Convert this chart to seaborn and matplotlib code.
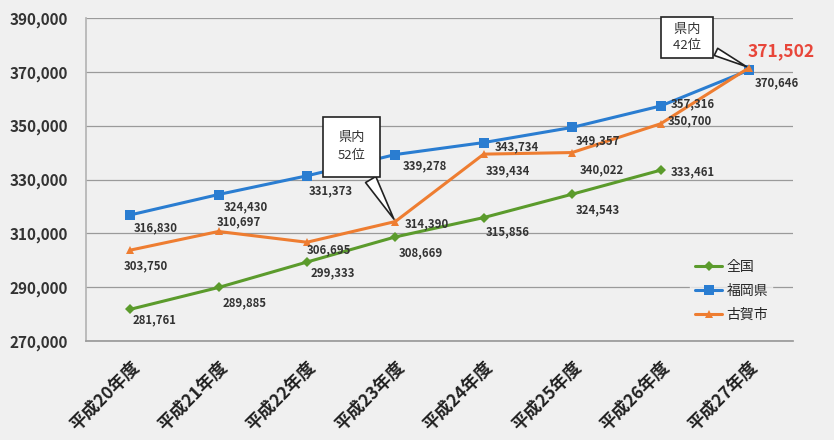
import numpy as np
import pandas as pd
import seaborn as sns
import matplotlib.pyplot as plt

# ----------------------------
# Data
# ----------------------------
years = ["平成20年度", "平成21年度", "平成22年度", "平成23年度",
         "平成24年度", "平成25年度", "平成26年度", "平成27年度"]
zenkoku = [281761, 289885, 299333, 308669, 315856, 324543, 333461, np.nan]
fukuoka = [316830, 324430, 331373, 339278, 343734, 349357, 357316, 370646]
koga = [303750, 310697, 306695, 314390, 339434, 340022, 350700, 371502]

# ----------------------------
# Style
# ----------------------------
sns.set_theme(style="white")
FONT = ["Noto Sans CJK JP", "DejaVu Sans"]
plt.rcParams["font.family"] = FONT

BG = "#f0f0f0"
COLORS = {"全国": "#5b9b2c", "福岡県": "#2a7dd1", "古賀市": "#ee7d31"}
MARKERS = {"全国": "D", "福岡県": "s", "古賀市": "^"}
MSIZE = {"全国": 5, "福岡県": 7, "古賀市": 6}

fig = plt.figure(figsize=(8.34, 4.40), dpi=100, facecolor=BG)
ax = fig.add_axes([0.103, 0.225, 0.848, 0.734], facecolor=BG)

x = np.arange(len(years))
for name, vals in [("全国", zenkoku), ("福岡県", fukuoka), ("古賀市", koga)]:
    sns.lineplot(x=x, y=vals, ax=ax, color=COLORS[name], marker=MARKERS[name],
                 markersize=MSIZE[name], markeredgewidth=0, linewidth=2.2,
                 label=name)

ax.set_xlim(-0.5, 7.5)
ax.set_ylim(270000, 390000)
ax.set_yticks(range(270000, 390001, 20000))
ax.set_yticklabels([f"{v:,}" for v in range(270000, 390001, 20000)],
                   fontsize=11, fontweight="bold", color="#333333")
ax.set_xticks(x)
ax.set_xticklabels(years, rotation=45, ha="right", rotation_mode="anchor",
                   fontsize=12.5, fontweight="bold", color="#222222")
ax.tick_params(axis="y", length=0, pad=13)
ax.tick_params(axis="x", length=0, pad=12)
ax.grid(axis="y", color="#9a9a9a", linewidth=0.9)
ax.set_axisbelow(True)
for s in ["top", "right"]:
    ax.spines[s].set_visible(False)
ax.spines["left"].set_color("#b5b5b5")
ax.spines["bottom"].set_color("#9a9a9a")

# ----------------------------
# Data labels (pixel offsets)
# ----------------------------
z_off = [(24, -10), (26, -15), (26, -11), (26, -16), (24, -14), (26, -16), (32, -2)]
f_off = [(26, -13), (27, -12), (24, -15), (30, -11), (33, -4), (26, -13), (32, 2), (28, -13)]
k_off = [(16, -16), (20, 10), (22, -8), (32, -2), (24, -17), (30, -17), (29, 3)]

def put_labels(vals, offs):
    for i, (v, o) in enumerate(zip(vals, offs)):
        if np.isnan(v):
            continue
        ax.annotate(f"{int(v):,}", (i, v), xytext=o, textcoords="offset pixels",
                    ha="center", va="center", fontsize=8.2, fontweight="bold",
                    color="#333333")

put_labels(zenkoku, z_off)
put_labels(fukuoka, f_off)
put_labels(koga, k_off)
ax.annotate(f"{koga[7]:,}", (7, koga[7]), xytext=(32, 17), textcoords="offset pixels",
            ha="center", va="center", fontsize=12.5, fontweight="bold",
            color="#e8463a")

# ----------------------------
# Callouts
# ----------------------------
wedge = dict(arrowstyle="wedge,tail_width=0.9,shrink_factor=0.5", fc="white",
             ec="#222222", lw=1.2)
ax.annotate("県内\n52位", (3, koga[3]), xytext=(-44, 75), textcoords="offset pixels",
            ha="center", va="center", fontsize=9.5, color="#333333",
            linespacing=1.5,
            bbox=dict(boxstyle="square,pad=1.1", fc="white", ec="#222222", lw=1.2),
            arrowprops=wedge)
ax.annotate("  県内  \n  42位  ", (7, koga[7]), xytext=(-62, 30), textcoords="offset pixels",
            ha="center", va="center", fontsize=9.5, color="#333333",
            linespacing=1.3,
            bbox=dict(boxstyle="square,pad=0.45", fc="white", ec="#222222", lw=1.2),
            arrowprops=dict(wedge, arrowstyle="wedge,tail_width=0.6,shrink_factor=0.5"))

# ----------------------------
# Legend
# ----------------------------
leg = ax.legend(loc="upper left", bbox_to_anchor=(0.845, 0.285), frameon=True,
                fontsize=10, handlelength=2.0, handletextpad=0.3,
                labelspacing=0.7, borderpad=0.3)
leg.get_frame().set_facecolor(BG)
leg.get_frame().set_edgecolor(BG)

plt.savefig("out.png", dpi=100, facecolor=BG)
